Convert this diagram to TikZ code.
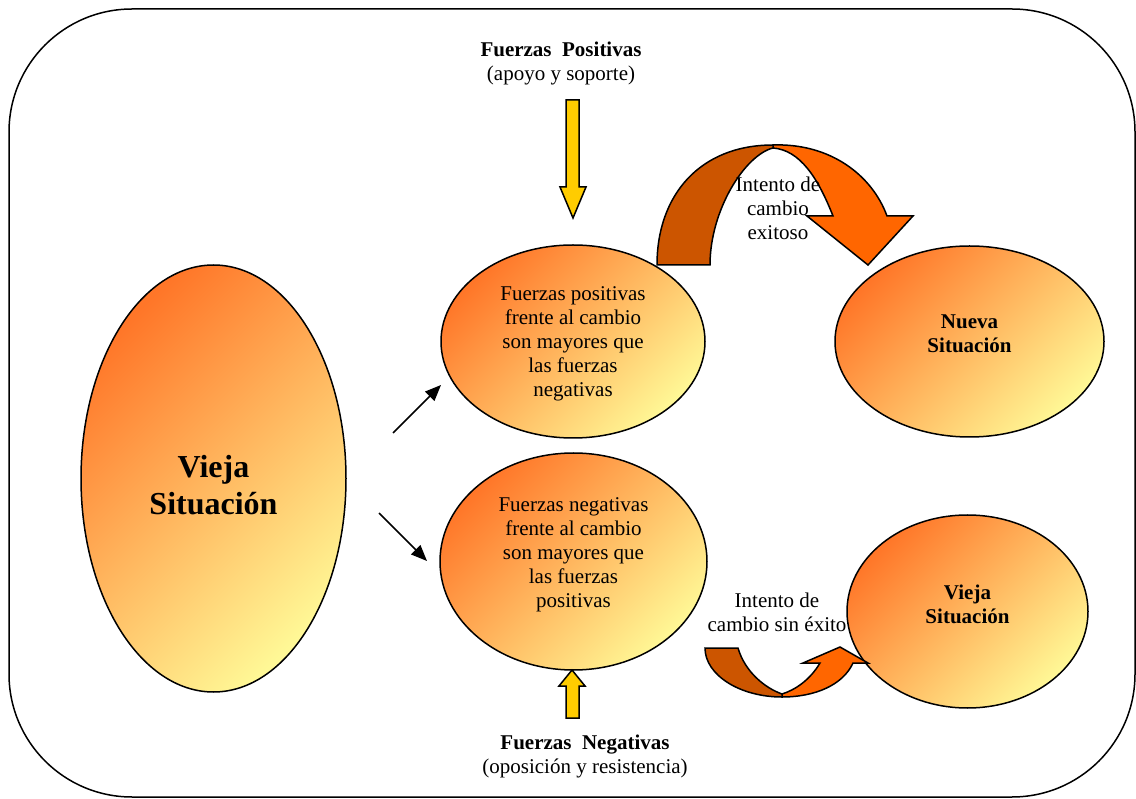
\documentclass[tikz,border=0pt]{standalone}
\usepackage{fontspec}
\setmainfont{Liberation Serif}
\usetikzlibrary{arrows.meta,shapes.geometric}
\definecolor{shadeorange}{RGB}{255,118,40}
\definecolor{shadeyellow}{RGB}{255,248,150}
\definecolor{arrowdark}{RGB}{204,85,0}
\definecolor{arrowlight}{RGB}{255,102,0}
\definecolor{forceyellow}{RGB}{255,204,0}
\begin{document}
\begin{tikzpicture}[x=1pt,y=-1pt,
  bubble/.style={ellipse, draw=black, line width=1.5pt, inner sep=0pt,
    top color=shadeorange, bottom color=shadeyellow, shading angle=45},
  bodytext/.style={align=center, font=\fontsize{21}{24}\selectfont},
  boldtext/.style={align=center, font=\fontsize{21}{24}\selectfont\bfseries},
  bigtext/.style={align=center, font=\fontsize{32}{37}\selectfont\bfseries},
  bandshape/.style={draw=black, line width=1.5pt, line join=miter},
  force/.style={draw=black, line width=1.5pt, fill=forceyellow, line join=miter},
  pointer/.style={draw=black, line width=1.5pt, -{Triangle[length=16pt,width=13pt]}}]
\useasboundingbox (0,0) rectangle (1136,799);

% frame
\draw[line width=1.5pt, rounded corners=123pt] (9,9) rectangle (1135,797);

% situations and force balances
\node[bubble, minimum width=265pt, minimum height=427pt] (old) at (213.5,478.5) {};
\node[bigtext] (oldtext) at (213.5,485) {Vieja\\Situación};

\node[bubble, minimum width=264pt, minimum height=193pt] (pos) at (573,341.5) {};
\node[bodytext] (postext) at (573,344) {Fuerzas positivas\\frente al cambio\\son mayores que\\las fuerzas\\negativas};

\node[bubble, minimum width=267pt, minimum height=217pt] (neg) at (573.5,561.5) {};
\node[bodytext] (negtext) at (573.5,555) {Fuerzas negativas\\frente al cambio\\son mayores que\\las fuerzas\\positivas};

\node[bubble, minimum width=269pt, minimum height=191pt] (new) at (969.5,341.5) {};
\node[boldtext] (newtext) at (969.5,334) {Nueva\\Situación};

\node[bubble, minimum width=241pt, minimum height=193pt] (same) at (967.5,611.5) {};
\node[boldtext] (sametext) at (967.5,604) {Vieja\\Situación};

% branching arrows
\coordinate (upstart) at (393,433);
\coordinate (uptip) at (441,385);
\coordinate (downstart) at (379,513);
\coordinate (downtip) at (427,561);
\draw[pointer] (upstart) -- (uptip);
\draw[pointer] (downstart) -- (downtip);

% supporting and opposing forces
\node[align=center, font=\fontsize{21}{24}\selectfont] (plus) at (561,63)
  {\textbf{Fuerzas\ \ Positivas}\\(apoyo y soporte)};
\node[align=center, font=\fontsize{21}{24}\selectfont] (minus) at (585,756)
  {\textbf{Fuerzas\ \ Negativas}\\(oposición y resistencia)};
\draw[force] (566,100) -- (579,100) -- (579,187) -- (586,187) -- (573,218)
  -- (560,187) -- (566,187) -- cycle;
\draw[force] (572,670) -- (585,686) -- (579,686) -- (579,718) -- (566,718)
  -- (566,686) -- (559,686) -- cycle;

% successful change: curved arrow over the top
\draw[bandshape, fill=arrowlight] (773,145) .. controls (830,143) and (872,175) .. (887,216)
  -- (913,216) -- (868,265) -- (807,216) -- (833,216)
  .. controls (818,178) and (800,150) .. (773,148) -- cycle;
\draw[bandshape, fill=arrowdark] (657,265) .. controls (657,195) and (700,145) .. (773,145)
  -- (773,148) .. controls (745,155) and (710,210) .. (710,265) -- cycle;
\node[bodytext] (successtext) at (778,208) {Intento de\\cambio\\exitoso};

% failed change: curved arrow underneath
\draw[bandshape, fill=arrowlight] (782,697) .. controls (815,697) and (843,685) .. (853,663)
  -- (868,663) -- (840,647) -- (803,663) -- (820,663)
  .. controls (810,680) and (795,690) .. (782,694) -- cycle;
\draw[bandshape, fill=arrowdark] (705,648) -- (738,648)
  .. controls (745,672) and (765,688) .. (782,694) -- (782,697)
  .. controls (740,697) and (705,675) .. (705,648) -- cycle;
\node[bodytext] (failtext) at (777,612) {Intento de\\cambio sin éxito};
\end{tikzpicture}
\end{document}
